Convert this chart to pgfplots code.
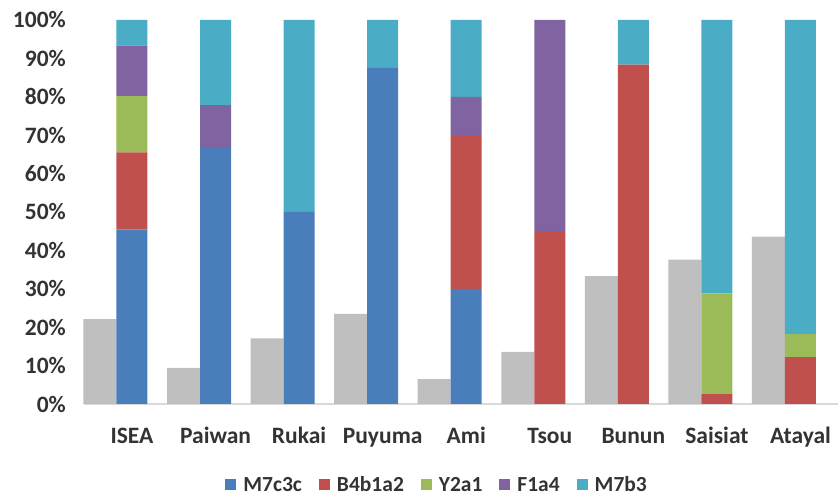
\documentclass[border=0pt]{standalone}
\usepackage{pgfplots}
\pgfplotsset{compat=1.18}
\usepackage{fontspec}
\setmainfont{Carlito}
\definecolor{cBlue}{HTML}{4A7EBB}
\definecolor{cRed}{HTML}{C0504D}
\definecolor{cGreen}{HTML}{9BBB59}
\definecolor{cPurple}{HTML}{8064A2}
\definecolor{cCyan}{HTML}{4BACC6}
\definecolor{cGray}{HTML}{BFBFBF}
\definecolor{lineGray}{HTML}{D9D9D9}
\definecolor{txtGray}{HTML}{333333}
\newcommand{\sq}[1]{\textcolor{#1}{\rule[1.4pt]{11pt}{11pt}}\hspace{7pt}}
\pgfplotsset{nolegimg/.style={legend image code/.code={}}}
\begin{document}
\begin{tikzpicture}
\path[use as bounding box] (-84pt,-90pt) rectangle (756pt,404pt);
\begin{axis}[
  at={(0pt,0pt)}, anchor=south west,
  scale only axis, width=754pt, height=384pt,
  xmin=-0.574, xmax=8.449, ymin=0, ymax=100,
  axis x line*=bottom, axis y line*=left,
  y axis line style={draw=none},
  x axis line style={draw=lineGray, line width=1.5pt, -},
  ytick={0,10,...,100},
  yticklabels={0\%,10\%,20\%,30\%,40\%,50\%,60\%,70\%,80\%,90\%,100\%},
  xtick={0,...,8},
  xticklabels={ISEA,Paiwan,Rukai,Puyuma,Ami,Tsou,Bunun,Saisiat,Atayal},
  major tick length=0pt, tick style={draw=none},
  tick label style={font=\fontsize{23.5}{27}\selectfont\bfseries, text=txtGray},
  yticklabel style={anchor=east, inner sep=0pt, xshift=-18pt},
  xticklabel style={anchor=base, yshift=-40pt},
  clip=false,
]
\addplot[ybar, bar width=0.395, bar shift=0pt, fill=cGray, draw=none]
  coordinates {(-0.383,22.1) (0.617,9.4) (1.617,17.1) (2.617,23.5) (3.617,6.5) (4.617,13.6) (5.617,33.3) (6.617,37.6) (7.617,43.6)};
\end{axis}
\begin{axis}[
  at={(0pt,0pt)}, anchor=south west,
  scale only axis, width=754pt, height=384pt,
  xmin=-0.574, xmax=8.449, ymin=0, ymax=100,
  axis lines=none,
  ybar stacked, bar width=0.371,
  legend columns=5,
  legend style={draw=none, fill=none, at={(0.467,-0.211)}, anchor=center,
    font=\fontsize{21.5}{25}\selectfont\bfseries, text=txtGray,
    /tikz/every odd column/.append style={column sep=0pt},
    /tikz/every even column/.append style={column sep=17pt},
    nodes={inner xsep=0pt}},
  legend cell align=left,
]
\addplot[fill=cBlue, draw=none, nolegimg] coordinates {(0,45.4) (1,66.7) (2,50) (3,87.5) (4,30) (5,0) (6,0) (7,0) (8,0)};
\addplot[fill=cRed, draw=none, nolegimg] coordinates {(0,20.1) (1,0) (2,0) (3,0) (4,40) (5,45) (6,88.4) (7,2.7) (8,12.2)};
\addplot[fill=cGreen, draw=none, nolegimg] coordinates {(0,14.7) (1,0) (2,0) (3,0) (4,0) (5,0) (6,0) (7,26.1) (8,6.0)};
\addplot[fill=cPurple, draw=none, nolegimg] coordinates {(0,13.1) (1,11.1) (2,0) (3,0) (4,10) (5,55) (6,0) (7,0) (8,0)};
\addplot[fill=cCyan, draw=none, nolegimg] coordinates {(0,6.7) (1,22.2) (2,50) (3,12.5) (4,20) (5,0) (6,11.6) (7,71.2) (8,81.8)};
\legend{{\sq{cBlue}M7c3c},{\sq{cRed}B4b1a2},{\sq{cGreen}Y2a1},{\sq{cPurple}F1a4},{\sq{cCyan}M7b3}}
\end{axis}
\end{tikzpicture}
\end{document}
